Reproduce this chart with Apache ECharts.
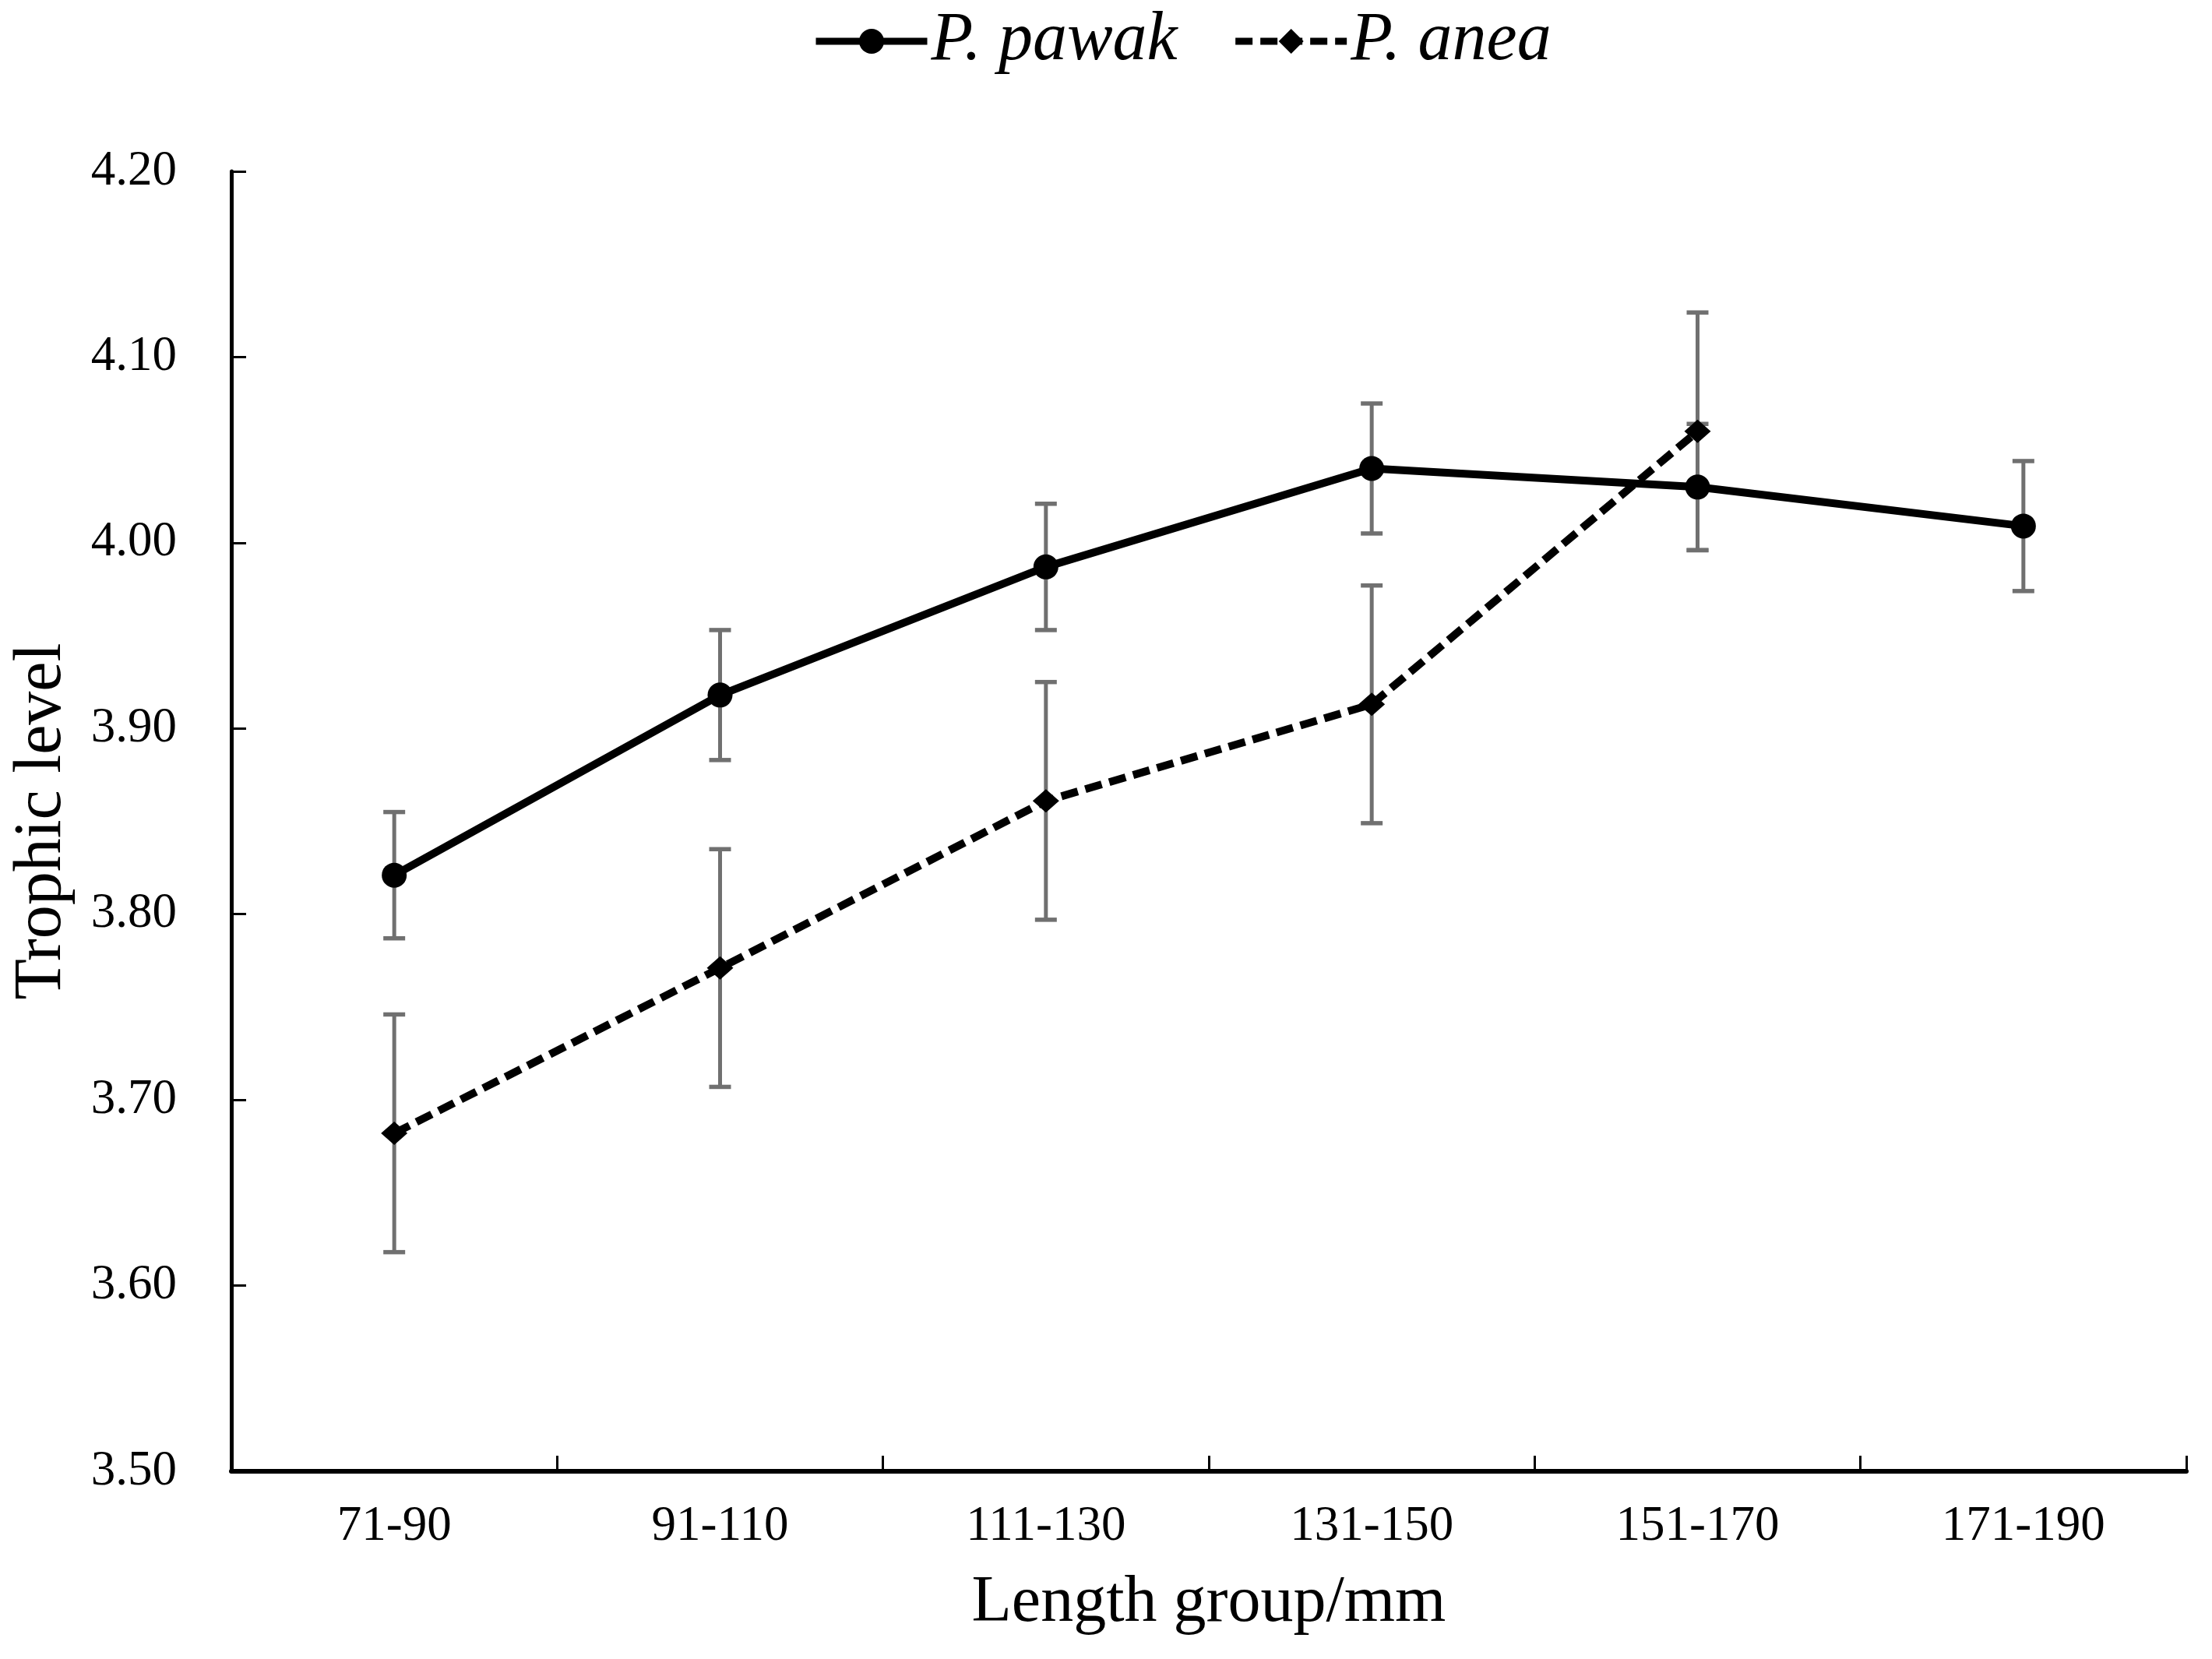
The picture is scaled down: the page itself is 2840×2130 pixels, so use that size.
<!DOCTYPE html>
<html>
<head>
<meta charset="utf-8">
<script src="https://cdn.jsdelivr.net/npm/echarts@6/dist/echarts.min.js"></script>
<style>
html,body{margin:0;padding:0;background:#fff;}
#chart{width:2840px;height:2130px;}
</style>
</head>
<body>
<div id="chart"></div>
<script>
var categories = ['71-90', '91-110', '111-130', '131-150', '151-170', '171-190'];
var pawakMean = [3.821, 3.918, 3.987, 4.040, 4.030, 4.009];
var pawakErr  = [0.034, 0.035, 0.034, 0.035, 0.034, 0.035];
var aneaMean  = [3.682, 3.771, 3.861, 3.913, 4.060, null];
var aneaErr   = [0.064, 0.064, 0.064, 0.064, 0.064, null];
var yTicks = [3.5, 3.6, 3.7, 3.8, 3.9, 4.0, 4.1, 4.2];

var FONT = '"Liberation Serif", "Times New Roman", serif';

function errData(mean, err) {
  var out = [];
  for (var i = 0; i < mean.length; i++) {
    if (mean[i] != null && err[i] != null) out.push([i, mean[i], err[i]]);
  }
  return out;
}

function renderErr(params, api) {
  var x = api.value(0), y = api.value(1), e = api.value(2);
  var top = api.coord([x, y + e]);
  var bot = api.coord([x, y - e]);
  var hw = 14;
  var st = { stroke: '#707070', lineWidth: 5 };
  var cap = { stroke: '#707070', lineWidth: 5.5 };
  return {
    type: 'group',
    children: [
      { type: 'line', shape: { x1: top[0], y1: top[1], x2: bot[0], y2: bot[1] }, style: st },
      { type: 'line', shape: { x1: top[0] - hw, y1: top[1], x2: top[0] + hw, y2: top[1] }, style: cap },
      { type: 'line', shape: { x1: bot[0] - hw, y1: bot[1], x2: bot[0] + hw, y2: bot[1] }, style: cap }
    ]
  };
}

var chart = echarts.init(document.getElementById('chart'), null, { renderer: 'canvas' });
chart.setOption({
  backgroundColor: '#ffffff',
  animation: false,
  legend: {
    data: ['P. pawak', 'P. anea'],
    left: 1038,
    top: 4,
    itemWidth: 143,
    itemHeight: 40,
    itemGap: 70,
    lineStyle: { width: 9 },
    textStyle: { fontFamily: FONT, fontStyle: 'italic', fontSize: 88, color: '#000' }
  },
  grid: { left: 297, right: 33, top: 220, bottom: 241, containLabel: false },
  xAxis: {
    type: 'category',
    data: categories,
    boundaryGap: true,
    name: 'Length group/mm',
    nameLocation: 'middle',
    nameGap: 128,
    nameTextStyle: { fontFamily: FONT, fontSize: 84, color: '#000' },
    axisLine: { lineStyle: { color: '#000', width: 6 } },
    axisTick: { show: true, inside: true, length: 20, alignWithLabel: false, lineStyle: { color: '#000', width: 3 } },
    axisLabel: { fontFamily: FONT, fontSize: 63, color: '#000', margin: 40 },
    splitLine: { show: false }
  },
  yAxis: {
    type: 'value',
    min: 3.5,
    max: 4.2,
    interval: 0.1,
    name: 'Trophic level',
    nameLocation: 'middle',
    nameGap: 200,
    nameTextStyle: { fontFamily: FONT, fontSize: 86, color: '#000' },
    axisLine: { show: true, lineStyle: { color: '#000', width: 5 } },
    axisTick: { show: true, inside: true, length: 19, lineStyle: { color: '#000', width: 3 } },
    axisLabel: {
      fontFamily: FONT, fontSize: 63, color: '#000', margin: 70,
      formatter: function (v) { return Number(v).toFixed(2); }
    },
    splitLine: { show: false }
  },
  series: [
    {
      name: 'errPawak', type: 'custom', renderItem: renderErr,
      data: errData(pawakMean, pawakErr), z: 1, silent: true,
      encode: { x: 0, y: 1 }
    },
    {
      name: 'errAnea', type: 'custom', renderItem: renderErr,
      data: errData(aneaMean, aneaErr), z: 1, silent: true,
      encode: { x: 0, y: 1 }
    },
    {
      name: 'P. pawak', type: 'line', data: pawakMean, z: 3,
      symbol: 'circle', symbolSize: 32,
      lineStyle: { color: '#000', width: 10, type: 'solid' },
      itemStyle: { color: '#000' }
    },
    {
      name: 'P. anea', type: 'line', data: aneaMean, z: 2,
      symbol: 'diamond', symbolSize: [34, 30],
      connectNulls: false,
      lineStyle: { color: '#000', width: 10, type: [22, 10] },
      itemStyle: { color: '#000' }
    }
  ]
});
</script>
</body>
</html>
